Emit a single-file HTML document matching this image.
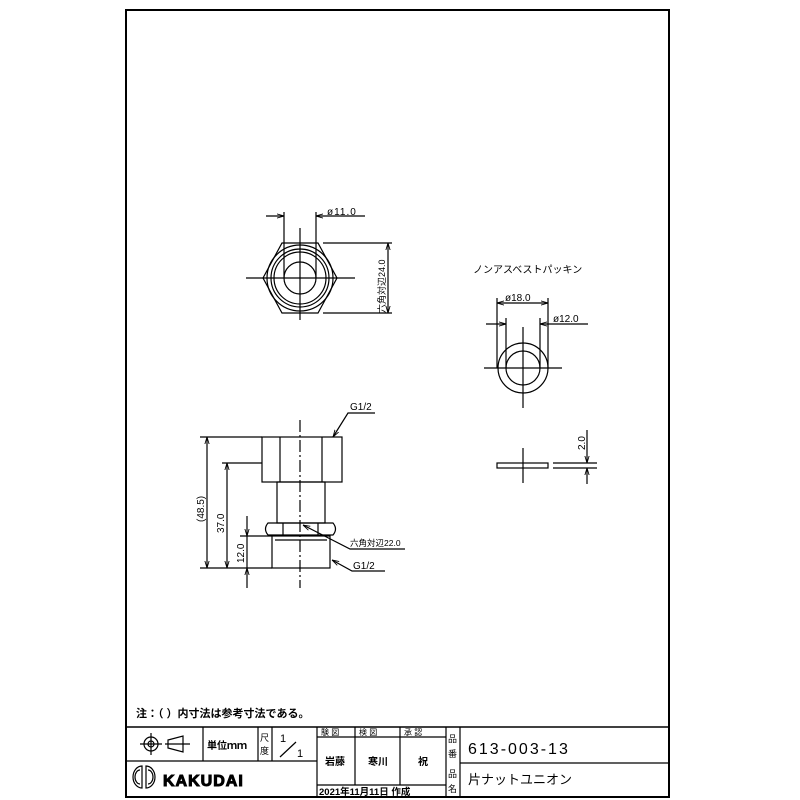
<!DOCTYPE html>
<html><head><meta charset="utf-8"><style>
html,body{margin:0;padding:0;background:#fff;}
svg{display:block;}
text{font-family:"Liberation Sans","Noto Sans CJK JP",sans-serif;fill:#000;}
</style></head><body>
<svg width="800" height="800" viewBox="0 0 800 800" xmlns="http://www.w3.org/2000/svg">
<defs>
<marker id="a" viewBox="0 0 10 10" refX="10" refY="5" markerWidth="6" markerHeight="6" orient="auto-start-reverse"><path d="M0,2 L10,5 L0,8" fill="none" stroke="#000" stroke-width="1.2"/></marker>
</defs>
<g fill="none" stroke="#000" stroke-width="1.2">
<rect x="126" y="10" width="543" height="787" stroke-width="2"/>
<line x1="126" y1="727" x2="669" y2="727" stroke-width="1.5"/>
<line x1="126" y1="761" x2="317" y2="761"/>
<line x1="317" y1="737" x2="446" y2="737"/>
<line x1="317" y1="785" x2="446" y2="785"/>
<line x1="460" y1="763" x2="669" y2="763"/>
<line x1="203" y1="727" x2="203" y2="761"/>
<line x1="258" y1="727" x2="258" y2="761"/>
<line x1="272" y1="727" x2="272" y2="761"/>
<line x1="317" y1="727" x2="317" y2="797"/>
<line x1="355" y1="727" x2="355" y2="785"/>
<line x1="400" y1="727" x2="400" y2="785"/>
<line x1="446" y1="727" x2="446" y2="797"/>
<line x1="460" y1="727" x2="460" y2="797"/>
<circle cx="151" cy="744" r="7"/><circle cx="151" cy="744" r="3"/>
<line x1="140" y1="744" x2="162" y2="744"/><line x1="151" y1="733" x2="151" y2="755"/>
<path d="M168,740 L168,748 L183,752 L183,736 Z"/>
<line x1="165" y1="744" x2="190" y2="744"/>
<line x1="280" y1="757" x2="296" y2="742"/>
<path d="M142,766 a9,11 0 0 0 0,22 Z M146,766 a9,11 0 0 1 0,22 Z"/>
<path d="M140,770 a5,7 0 0 0 0,14 M148,770 a5,7 0 0 1 0,14"/>

<polygon points="263,278 282,243 318,243 337,278 318,313 282,313"/>
<circle cx="300" cy="278" r="33"/>
<circle cx="300" cy="278" r="29"/>
<circle cx="300" cy="278" r="26"/>
<circle cx="300" cy="278" r="16"/>
<line x1="246" y1="278" x2="355" y2="278"/>
<line x1="300" y1="228" x2="300" y2="320"/>
<line x1="284" y1="212" x2="284" y2="278"/>
<line x1="316" y1="212" x2="316" y2="278"/>
<line x1="266" y1="216" x2="284" y2="216" marker-end="url(#a)"/>
<line x1="316" y1="216" x2="365" y2="216" marker-start="url(#a)"/>
<line x1="323" y1="243" x2="392" y2="243"/>
<line x1="323" y1="313" x2="392" y2="313"/>
<line x1="388" y1="243" x2="388" y2="313" marker-start="url(#a)" marker-end="url(#a)"/>

<rect x="262" y="437" width="80" height="45"/>
<line x1="280" y1="437" x2="280" y2="482"/>
<line x1="322" y1="437" x2="322" y2="482"/>
<rect x="277" y="482" width="48" height="41"/>
<path d="M268,523 L333,523 Q338,529 333,535 L268,535 Q263,529 268,523 Z"/>
<line x1="283" y1="523" x2="283" y2="535"/><line x1="318" y1="523" x2="318" y2="535"/>
<rect x="272" y="536" width="58" height="32"/>
<line x1="275" y1="540" x2="327" y2="540"/>
<line x1="300" y1="420" x2="300" y2="588" stroke-dasharray="12,3,2,3"/>
<line x1="200" y1="437" x2="262" y2="437"/>
<line x1="222" y1="463" x2="262" y2="463"/>
<line x1="200" y1="568" x2="272" y2="568"/>
<line x1="240" y1="536" x2="272" y2="536"/>
<line x1="207" y1="437" x2="207" y2="568" marker-start="url(#a)" marker-end="url(#a)"/>
<line x1="227" y1="463" x2="227" y2="568" marker-start="url(#a)" marker-end="url(#a)"/>
<line x1="247" y1="516" x2="247" y2="536" marker-end="url(#a)"/>
<line x1="247" y1="588" x2="247" y2="568" marker-end="url(#a)"/>
<line x1="247" y1="536" x2="247" y2="568"/>
<polyline points="375,413 348,413 333,437" marker-end="url(#a)"/>
<polyline points="405,549 350,549 303,525" marker-end="url(#a)"/>
<polyline points="385,571 352,571 332,560" marker-end="url(#a)"/>

<circle cx="523" cy="368" r="25"/>
<circle cx="523" cy="368" r="17"/>
<line x1="484" y1="368" x2="562" y2="368"/>
<line x1="523" y1="327" x2="523" y2="408"/>
<line x1="497" y1="298" x2="497" y2="368"/>
<line x1="548" y1="298" x2="548" y2="368"/>
<line x1="506" y1="318" x2="506" y2="368"/>
<line x1="540" y1="318" x2="540" y2="368"/>
<line x1="497" y1="303" x2="548" y2="303" marker-start="url(#a)" marker-end="url(#a)"/>
<line x1="486" y1="324" x2="506" y2="324" marker-end="url(#a)"/>
<line x1="540" y1="324" x2="588" y2="324" marker-start="url(#a)"/>
<rect x="497" y="463" width="51" height="5"/>
<line x1="523" y1="448" x2="523" y2="483"/>
<line x1="553" y1="463" x2="597" y2="463"/>
<line x1="553" y1="468" x2="597" y2="468"/>
<line x1="587" y1="430" x2="587" y2="463" marker-end="url(#a)"/>
<line x1="587" y1="484" x2="587" y2="468" marker-end="url(#a)"/>
</g>

<g font-size="10">
<text x="327" y="215" letter-spacing="1">ø11.0</text>
<text transform="translate(385,313) rotate(-90)" font-size="9">六角対辺24.0</text>
<text x="473" y="273" font-size="10">ノンアスベストパッキン</text>
<text x="505" y="301">ø18.0</text>
<text x="553" y="322">ø12.0</text>
<text transform="translate(585,450) rotate(-90)">2.0</text>
<text x="350" y="410">G1/2</text>
<text x="350" y="546" font-size="8.5">六角対辺22.0</text>
<text x="353" y="569">G1/2</text>
<text transform="translate(204,522) rotate(-90)">(48.5)</text>
<text transform="translate(224,533) rotate(-90)">37.0</text>
<text transform="translate(244,563) rotate(-90)">12.0</text>
<text x="136" y="717" font-size="11" font-weight="bold">注：（ ）内寸法は参考寸法である。</text>
<text x="207" y="749" font-size="10" font-weight="bold">単位ｍｍ</text>
<text x="260" y="741" font-size="9">尺</text><text x="260" y="754" font-size="9">度</text>
<text x="280" y="742" font-size="11">1</text><text x="297" y="757" font-size="11">1</text>
<text x="321" y="735" font-size="8">験 図</text>
<text x="359" y="735" font-size="8">検 図</text>
<text x="404" y="735" font-size="8">承 認</text>
<text x="325" y="765" font-size="10" font-weight="bold">岩藤</text>
<text x="368" y="765" font-size="10" font-weight="bold">寒川</text>
<text x="418" y="765" font-size="10" font-weight="bold">祝</text>
<text x="319" y="795" font-size="9.5" font-weight="bold">2021年11月11日 作成</text>
<text x="448" y="742" font-size="9">品</text><text x="448" y="757" font-size="9">番</text>
<text x="448" y="777" font-size="9">品</text><text x="448" y="792" font-size="9">名</text>
<text x="468" y="754" font-size="16" letter-spacing="2">613-003-13</text>
<text x="468" y="784" font-size="13">片ナットユニオン</text>
<text x="163" y="786" font-size="16" font-weight="bold" fill="#fff" stroke="#000" stroke-width="1" letter-spacing="1">KAKUDAI</text>
</g>
</svg>
</body></html>
